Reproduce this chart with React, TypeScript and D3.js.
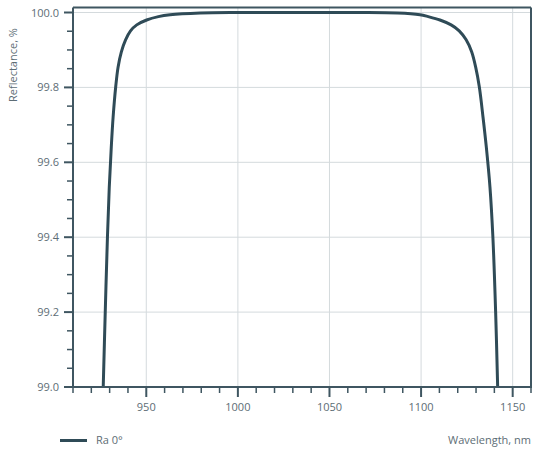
import React from "react";
import * as d3 from "d3";

const wavelengths = [926.5, 927.6, 928.8, 929.8, 930.9, 931.9, 933.3, 934.6, 936.4, 938.7, 941.4, 944.8, 950.2, 956.6, 963.0, 979.4, 1000, 1030, 1065.4, 1087.2, 1099.4, 1103.9, 1110.3, 1116.4, 1120.8, 1124.6, 1127.6, 1129.8, 1131.8, 1133.8, 1135.6, 1137.6, 1139.2, 1140.7, 1141.8];
const reflectance = [99.0, 99.2, 99.4, 99.534, 99.641, 99.721, 99.801, 99.854, 99.895, 99.927, 99.951, 99.967, 99.98, 99.989, 99.994, 99.9987, 100.0, 100.0, 100.0, 99.9987, 99.994, 99.989, 99.98, 99.967, 99.951, 99.927, 99.895, 99.854, 99.801, 99.721, 99.641, 99.534, 99.4, 99.2, 99.0];
const xMajorTicks = [950, 1000, 1050, 1100, 1150];
const yMajorTicks = [99.0, 99.2, 99.4, 99.6, 99.8, 100.0];
const seriesName = "Ra 0°";
const xTitle = "Wavelength, nm";
const yTitle = "Reflectance, %";

const W = 539, H = 460;
const left = 73, right = 531, top = 7.5, bottom = 387;
const FONT = "'Open Sans', Lato, sans-serif";
const TEXT = "#5d6d75";
const AXIS = "#3f5661";
const LINE = "#2f4b57";
const GRID = "#d4dadd";

export default function App() {
  const x = d3.scaleLinear().domain([910, 1160]).range([left, right]);
  const y = d3.scaleLinear().domain([99.0, 100.0]).range([bottom, 12.5]);
  const xMinor = d3.range(910, 1161, 10);
  const yMinor = d3.range(0, 21).map((i) => 99 + i * 0.05);
  const data = wavelengths.map((w, i) => [w, reflectance[i]] as [number, number]);
  const line = d3.line<[number, number]>().x((d) => x(d[0])).y((d) => y(d[1])).curve(d3.curveCatmullRom.alpha(0.5));

  return (
    <svg width={W} height={H} style={{ display: "block", position: "absolute", left: 0, top: 0 }} fontFamily={FONT}>
      <defs>
        <clipPath id="plot">
          <rect x={left} y={top} width={right - left} height={bottom - top} />
        </clipPath>
      </defs>
      {xMajorTicks.map((t) => (
        <line key={"gx" + t} x1={x(t)} x2={x(t)} y1={top} y2={bottom} stroke={GRID} strokeWidth={1} />
      ))}
      {yMajorTicks.map((t) => (
        <line key={"gy" + t} x1={left} x2={right} y1={y(t)} y2={y(t)} stroke={GRID} strokeWidth={1} />
      ))}
      <path d={line(data) || ""} fill="none" stroke={LINE} strokeWidth={3} clipPath="url(#plot)" strokeLinejoin="round" />
      <line x1={left} x2={right} y1={top} y2={top} stroke={AXIS} strokeWidth={2} />
      <line x1={right} x2={right} y1={top} y2={bottom} stroke={AXIS} strokeWidth={2} />
      <line x1={left} x2={left} y1={top} y2={bottom} stroke={AXIS} strokeWidth={2} />
      <line x1={left} x2={right + 1} y1={bottom} y2={bottom} stroke={AXIS} strokeWidth={2} />
      {xMinor.map((t) => {
        const major = t % 50 === 0;
        return <line key={"tx" + t} x1={x(t)} x2={x(t)} y1={bottom} y2={bottom + (major ? 10 : 6)} stroke={AXIS} strokeWidth={major ? 2 : 1.5} />;
      })}
      {xMajorTicks.map((t) => (
        <text key={"lx" + t} x={x(t)} y={411} textAnchor="middle" fontSize={11} fill={TEXT}>{t}</text>
      ))}
      {yMinor.map((t, i) => {
        const major = i % 4 === 0;
        return <line key={"ty" + i} x1={left - (major ? 9 : 6)} x2={left} y1={y(t)} y2={y(t)} stroke={AXIS} strokeWidth={major ? 2 : 1.5} />;
      })}
      {yMajorTicks.map((t) => (
        <text key={"ly" + t} x={59} y={y(t) + 4} textAnchor="end" fontSize={11} fill={TEXT}>{t.toFixed(1)}</text>
      ))}
      <text transform={`translate(17,65) rotate(-90)`} textAnchor="middle" fontSize={11} fill={TEXT}>{yTitle}</text>
      <text x={531} y={444} textAnchor="end" fontSize={11} fill={TEXT}>{xTitle}</text>
      <line x1={60} x2={87} y1={440.5} y2={440.5} stroke={LINE} strokeWidth={3} />
      <text x={96} y={444} fontSize={11} fill={TEXT}>{seriesName}</text>
    </svg>
  );
}
